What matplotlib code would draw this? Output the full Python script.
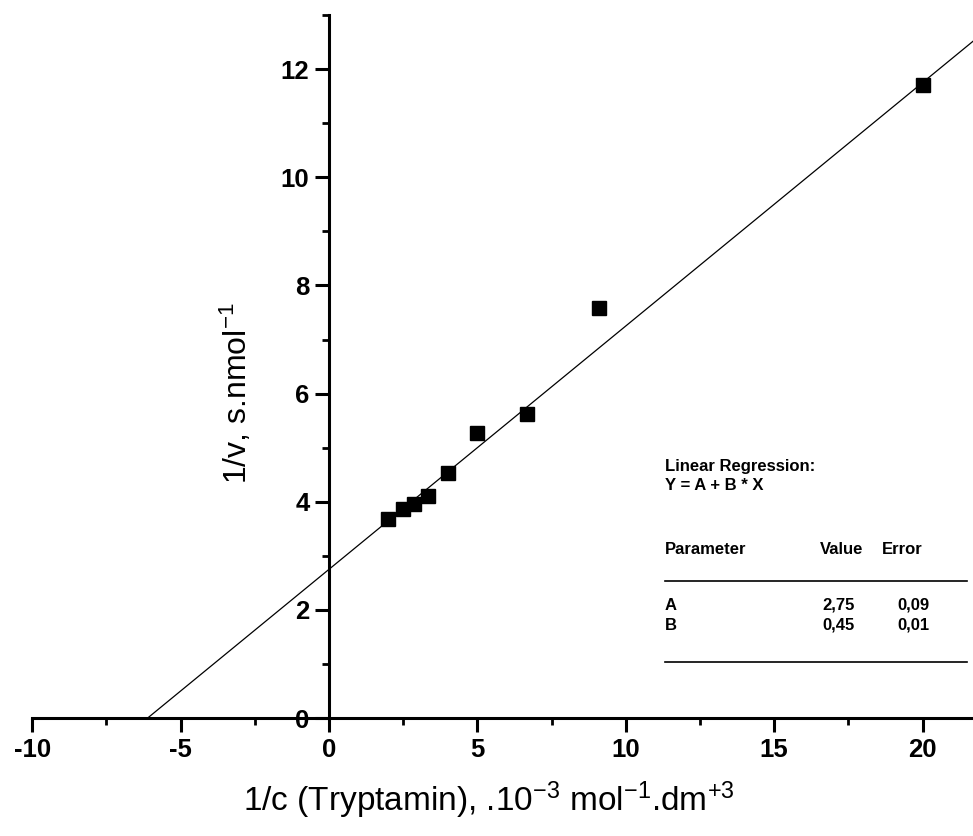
import numpy as np
import matplotlib.pyplot as plt
from matplotlib.lines import Line2D
from matplotlib.ticker import MultipleLocator

plt.rcParams['font.family'] = ['Liberation Sans', 'DejaVu Sans']
plt.rcParams['mathtext.fontset'] = 'custom'
plt.rcParams['mathtext.rm'] = 'Liberation Sans'
plt.rcParams['mathtext.it'] = 'Liberation Sans'
plt.rcParams['axes.unicode_minus'] = False

# data
inv_c = [2.0, 2.5, 2.86, 3.33, 4.0, 5.0, 6.67, 9.1, 20.0]
inv_v = [3.68, 3.87, 3.95, 4.1, 4.53, 5.28, 5.63, 7.59, 11.70]

# fit parameters shown in the box
A, A_err = 2.75, 0.09
B, B_err = 0.45, 0.01

x_ticks = [-10, -5, 0, 5, 10, 15, 20]
y_ticks = [0, 2, 4, 6, 8, 10, 12]

fig = plt.figure(figsize=(9.73, 8.36), dpi=100)
ax = fig.add_axes([0.033, 0.141, 0.967, 0.841])
ax.set_xlim(-10, 21.7)
ax.set_ylim(0, 13.0)

# fitted line from x-intercept to the right edge
x_fit = np.array([-A / B, 21.7])
ax.plot(x_fit, A + B * x_fit, color='black', lw=0.9)
ax.plot(inv_c, inv_v, 's', color='black', markersize=10, clip_on=False)

# spines through the origin
ax.spines['left'].set_position(('data', 0))
ax.spines['bottom'].set_position(('data', 0))
ax.spines['top'].set_visible(False)
ax.spines['right'].set_visible(False)
for s in ('left', 'bottom'):
    ax.spines[s].set_linewidth(2.2)

ax.set_xticks(x_ticks)
ax.set_yticks(y_ticks)
ax.xaxis.set_minor_locator(MultipleLocator(2.5))
ax.yaxis.set_minor_locator(MultipleLocator(1))
ax.tick_params(which='major', direction='out', length=10, width=2.2,
               labelsize=18.5, pad=4)
ax.tick_params(which='minor', direction='out', length=5, width=2.0)
for lab in ax.get_xticklabels() + ax.get_yticklabels():
    lab.set_fontweight('bold')

ax.set_xlabel(r"1/c (Tryptamin), .10$^{-3}$ mol$^{-1}$.dm$^{+3}$", fontsize=24)
ax.xaxis.set_label_coords(0.485, -0.087)
ax.set_ylabel(r"1/v, s.nmol$^{-1}$", fontsize=23)
ax.yaxis.set_label_coords(0.236, 0.462)

# regression box
fs = 12
kw = dict(fontsize=fs, va='center', fontweight='bold')
fig.text(665 / 973, 1 - 466 / 836, "Linear Regression:", **kw)
fig.text(665 / 973, 1 - 486 / 836, "Y = A + B * X", **kw)
fig.text(665 / 973, 1 - 550 / 836, "Parameter", **kw)
fig.text(820 / 973, 1 - 550 / 836, "Value", **kw)
fig.text(882 / 973, 1 - 550 / 836, "Error", **kw)
rows = [("A", A, A_err, 605), ("B", B, B_err, 625)]
for name, val, err, yp in rows:
    fig.text(665 / 973, 1 - yp / 836, name, **kw)
    fig.text(822 / 973, 1 - yp / 836, f"{val:.2f}".replace('.', ','), **kw)
    fig.text(897 / 973, 1 - yp / 836, f"{err:.2f}".replace('.', ','), **kw)
for yp in (581, 662):
    fig.add_artist(Line2D([665 / 973, 967 / 973], [1 - yp / 836, 1 - yp / 836],
                          transform=fig.transFigure, color='black', lw=1.2))

fig.savefig("out.png", dpi=100)
